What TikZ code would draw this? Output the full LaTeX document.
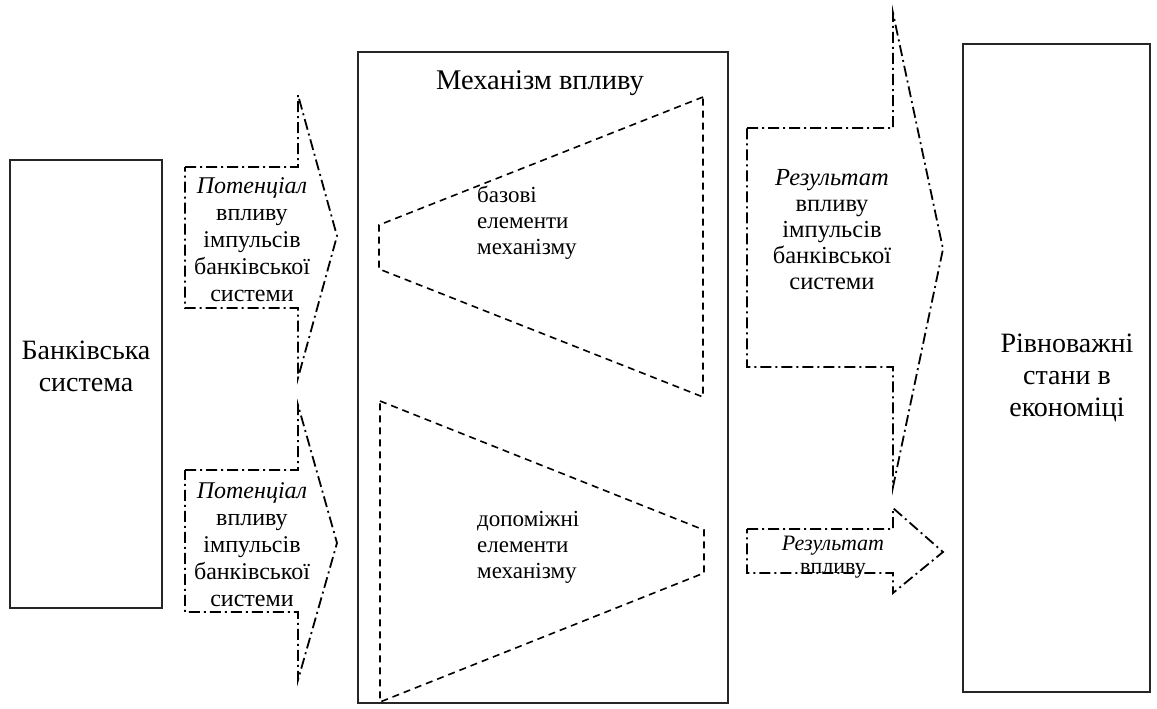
\documentclass[tikz,border=0pt]{standalone}
\usepackage{fontspec}
\setmainfont{Liberation Serif}
\begin{document}
\begin{tikzpicture}[x=1pt,y=-1pt,
  solidbox/.style={draw=black!85, line width=1.8pt, minimum width=#1},
  dashdot/.style={draw=black, line width=1.8pt, dash pattern=on 11pt off 4pt on 2pt off 4pt},
  dashline/.style={draw=black, line width=1.6pt, dash pattern=on 7pt off 5pt},
  bigtxt/.style={font=\fontsize{28}{32}\selectfont, align=center, inner sep=0pt},
  arrtxt/.style={font=\fontsize{24}{27}\selectfont, align=center, inner sep=0pt},
  trtxt/.style={font=\fontsize{23}{26}\selectfont, align=left, inner sep=0pt}
]
\useasboundingbox (0,0) rectangle (1157,709);
% main boxes
\node[solidbox=152pt, minimum height=448pt] (bank) at (86,384) {};
\node[bigtxt] (banktxt) at (86,366) {Банківська\\система};
\node[solidbox=370pt, minimum height=651pt] (mech) at (543,377.5) {};
\node[font=\fontsize{28.5}{30}\selectfont, inner sep=0pt] (mechtxt) at (540,83) {Механізм впливу};
\node[solidbox=187pt, minimum height=648pt] (eq) at (1056.5,368) {};
\node[bigtxt] (eqtxt) at (1067,378) {Рівноважні\\стани в\\економіці};
% trapezoids
\draw[dashline] (703,97) -- (379,225) -- (379,269) -- (703,397) -- cycle;
\node[trtxt, anchor=north west] (base) at (477,186) {базові\\елементи\\механізму};
\draw[dashline] (380,401) -- (704,530) -- (704,573) -- (380,702) -- cycle;
\node[trtxt, anchor=north west] (aux) at (477,511) {допоміжні\\елементи\\механізму};
% left arrows
\draw[dashdot] (185,167) -- (298,167) -- (298,95) -- (337,236) -- (298,378) -- (298,308) -- (185,308) -- cycle;
\node[arrtxt] (p1) at (252,240) {\textit{Потенціал}\\впливу\\імпульсів\\банківської\\системи};
\draw[dashdot] (185,470) -- (298,470) -- (298,405) -- (337,543) -- (298,680) -- (298,612) -- (185,612) -- cycle;
\node[arrtxt] (p2) at (252,545) {\textit{Потенціал}\\впливу\\імпульсів\\банківської\\системи};
% right arrows
\draw[dashdot] (747,128) -- (893,128) -- (893,13) -- (943,249) -- (893,487) -- (893,367) -- (747,367) -- cycle;
\node[arrtxt, font=\fontsize{24.5}{26}\selectfont] (r1) at (832,230) {\textit{Результат}\\впливу\\імпульсів\\банківської\\системи};
\draw[dashdot] (747,529) -- (893,529) -- (893,508) -- (943,552) -- (893,593) -- (893,573) -- (747,573) -- cycle;
\node[font=\fontsize{22}{23}\selectfont, align=center, inner sep=0pt] (r2) at (833,557) {\textit{Результат}\\впливу};
\end{tikzpicture}
\end{document}
